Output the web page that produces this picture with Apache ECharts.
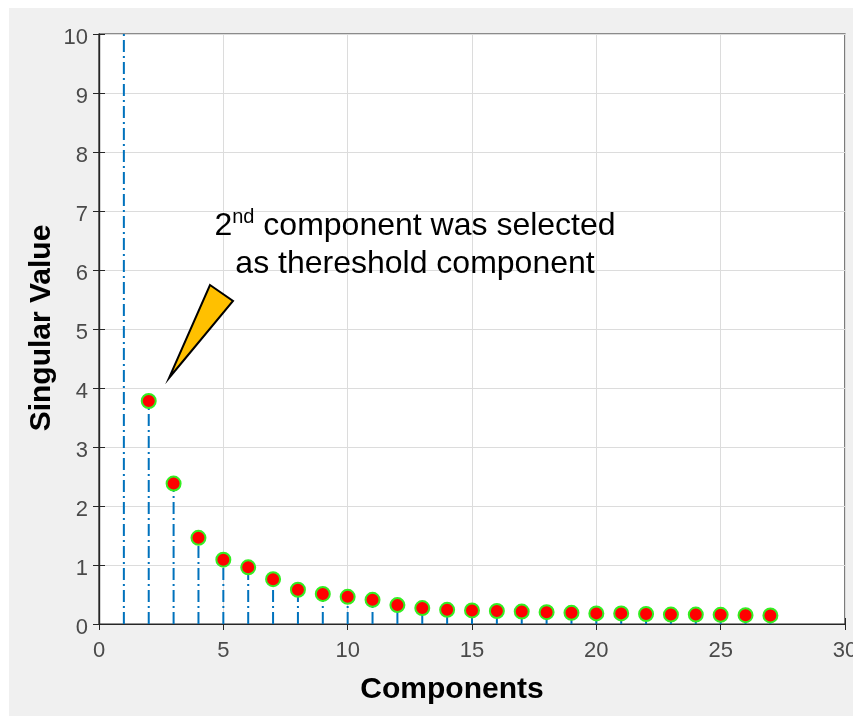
<!DOCTYPE html>
<html>
<head>
<meta charset="utf-8">
<script src="https://cdn.jsdelivr.net/npm/echarts@6/dist/echarts.min.js"></script>
<style>
html,body{margin:0;padding:0;background:#fff;}
#c{width:853px;height:716px;}
</style>
</head>
<body>
<div id="c"></div>
<script>
// Component index (x) and singular values (y). The first value lies beyond the 0-10 axis range (clipped).
const components = [1,2,3,4,5,6,7,8,9,10,11,12,13,14,15,16,17,18,19,20,21,22,23,24,25,26,27];
const singularValues = [14, 3.78, 2.38, 1.46, 1.09, 0.96, 0.76, 0.58, 0.51, 0.46, 0.41, 0.32, 0.27, 0.24, 0.23, 0.22, 0.21, 0.20, 0.19, 0.18, 0.18, 0.17, 0.16, 0.16, 0.155, 0.15, 0.145];
const xTickLabels = ['0','5','10','15','20','25','30'];
const yTickLabels = ['0','1','2','3','4','5','6','7','8','9','10'];
const xTitle = 'Components';
const yTitle = 'Singular Value';
const noteLine1 = ['2', 'nd', ' component was selected'];
const noteLine2 = 'as thereshold component';

const points = components.map((c, i) => [c, singularValues[i]]);

const chart = echarts.init(document.getElementById('c'));
const tickColor = '#4a4a4a';
const axisColor = '#262626';
const gridColor = '#dcdcdc';

chart.setOption({
  animation: false,
  backgroundColor: '#ffffff',
  grid: { left: 99, top: 34, right: 8, bottom: 92, show: true, backgroundColor: '#ffffff', borderColor: axisColor, borderWidth: 1.2,
    containLabel: false, outerBoundsMode: 'none' },
  xAxis: [{
    type: 'value', min: 0, max: 30, interval: 5,
    axisLine: { show: true, onZero: false, lineStyle: { color: axisColor, width: 1.2 } },
    axisTick: { show: true, inside: true, length: 6, lineStyle: { color: axisColor } },
    axisLabel: { color: tickColor, fontSize: 22, fontFamily: 'Liberation Sans, Arial', margin: 16,
      formatter: v => xTickLabels[Math.round(v / 5)] },
    splitLine: { show: true, lineStyle: { color: gridColor, width: 1 } }
  }, {
    type: 'value', min: 0, max: 30, interval: 5, position: 'top',
    axisLine: { show: true, lineStyle: { color: axisColor, width: 1.2 } },
    axisTick: { show: true, inside: true, length: 6, lineStyle: { color: axisColor } },
    axisLabel: { show: false }, splitLine: { show: false }
  }],
  yAxis: [{
    type: 'value', min: 0, max: 10, interval: 1,
    axisLine: { show: true, onZero: false, lineStyle: { color: axisColor, width: 1.2 } },
    axisTick: { show: true, inside: true, length: 6, lineStyle: { color: axisColor } },
    axisLabel: { color: tickColor, fontSize: 22, fontFamily: 'Liberation Sans, Arial', margin: 11,
      verticalAlign: 'top', lineHeight: 8, formatter: v => yTickLabels[Math.round(v)] },
    splitLine: { show: true, lineStyle: { color: gridColor, width: 1 } }
  }, {
    type: 'value', min: 0, max: 10, interval: 1, position: 'right',
    axisLine: { show: true, lineStyle: { color: axisColor, width: 1.2 } },
    axisTick: { show: true, inside: true, length: 6, lineStyle: { color: axisColor } },
    axisLabel: { show: false }, splitLine: { show: false }
  }],
  series: [{
    type: 'custom',
    clip: true,
    data: points,
    z: 3,
    renderItem: function (params, api) {
      const base = api.coord([api.value(0), 0]);
      const top = api.coord([api.value(0), api.value(1)]);
      return {
        type: 'line',
        shape: { x1: base[0], y1: base[1], x2: top[0], y2: top[1] },
        style: { stroke: '#0072BD', lineWidth: 2, lineDash: [12, 4, 2, 4] }
      };
    }
  }, {
    type: 'scatter',
    clip: true,
    data: points,
    z: 4,
    symbol: 'circle',
    symbolSize: 14,
    itemStyle: { color: '#ff0000', borderColor: '#33ee22', borderWidth: 2, opacity: 1 }
  }],
  graphic: [
    { type: 'rect', z: -100, silent: true, shape: { x: 9, y: 8, width: 844, height: 708 }, style: { fill: '#f0f0f0' } },
    { type: 'text', z: 10, silent: true, x: 452, y: 690,
      style: { text: xTitle, fontSize: 30, fontWeight: 'bold', fontFamily: 'Liberation Sans, Arial',
        fill: '#000', align: 'center', verticalAlign: 'middle' } },
    { type: 'text', z: 10, silent: true, x: 42, y: 328, rotation: Math.PI / 2,
      style: { text: yTitle, fontSize: 30, fontWeight: 'bold', fontFamily: 'Liberation Sans, Arial',
        fill: '#000', align: 'center', verticalAlign: 'middle' } },
    { type: 'polygon', z: 10, silent: true,
      shape: { points: [[210, 285], [233, 301], [169, 378]] },
      style: { fill: '#FFC000', stroke: '#000', lineWidth: 2, lineJoin: 'miter' } },
    { type: 'text', z: 10, silent: true, x: 415, y: 245,
      style: {
        text: '{a|' + noteLine1[0] + '}{s|' + noteLine1[1] + '}{a|' + noteLine1[2] + '}\n{a|' + noteLine2 + '}',
        align: 'center', verticalAlign: 'middle', fill: '#000',
        fontFamily: 'Liberation Sans, Arial',
        rich: {
          a: { fontSize: 32, lineHeight: 38, fontFamily: 'Liberation Sans, Arial', fill: '#000' },
          s: { fontSize: 20, lineHeight: 38, verticalAlign: 'top', padding: [0, 0, 12, 0], fontFamily: 'Liberation Sans, Arial', fill: '#000' }
        }
      } }
  ]
});
</script>
</body>
</html>
